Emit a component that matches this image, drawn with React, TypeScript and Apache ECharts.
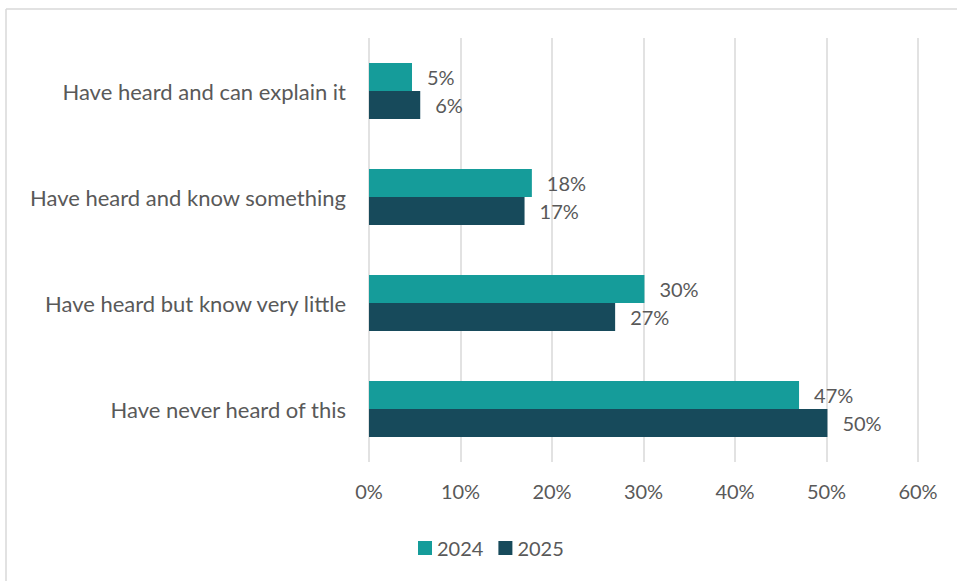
import React, { useEffect, useRef } from "react";
import * as echarts from "echarts";

const categories = [
  "Have heard and can explain it",
  "Have heard and know something",
  "Have heard but know very little",
  "Have never heard of this",
];
const values2024 = [4.7, 17.8, 30.1, 47.0];
const values2025 = [5.6, 17.0, 26.9, 50.1];
const xTicks = [0, 10, 20, 30, 40, 50, 60];
const seriesNames = ["2024", "2025"];

const FONT = "Lato, 'Open Sans', sans-serif";
const TEXT = "#595959";
const FS = 20;

export default function App() {
  const ref = useRef<HTMLDivElement>(null);
  useEffect(() => {
    if (!ref.current) return;
    const chart = echarts.init(ref.current, null, { renderer: "svg" });
    const label = {
      show: true,
      position: "right" as const,
      distance: 15,
      color: TEXT,
      fontSize: FS,
      fontFamily: FONT,
      formatter: (p: any) => Math.round(p.value) + "%",
    };
    chart.setOption({
      animation: false,
      textStyle: { fontFamily: FONT },
      grid: { left: 369, right: 39, top: 38, bottom: 119, containLabel: false },
      legend: {
        data: seriesNames,
        top: 533,
        left: 413,
        itemWidth: 14,
        itemHeight: 14,
        itemGap: 15,
        icon: "rect",
        textStyle: { color: TEXT, fontSize: FS, fontFamily: FONT },
      },
      xAxis: {
        type: "value",
        min: xTicks[0],
        max: xTicks[xTicks.length - 1],
        interval: 10,
        axisLine: { show: false },
        axisTick: { show: false },
        axisLabel: {
          color: TEXT,
          fontSize: FS,
          fontFamily: FONT,
          margin: 19,
          formatter: (v: number) => v + "%",
        },
        splitLine: { show: true, lineStyle: { color: "#d9d9d9", width: 1.5 } },
      },
      yAxis: {
        type: "category",
        data: categories,
        inverse: true,
        axisLine: { show: false },
        axisTick: { show: false },
        axisLabel: { color: TEXT, fontSize: 22, fontFamily: FONT, margin: 23 },
      },
      series: [
        {
          name: seriesNames[0],
          type: "bar",
          data: values2024,
          barWidth: 28,
          barGap: "0%",
          itemStyle: { color: "#159C9A" },
          label,
        },
        {
          name: seriesNames[1],
          type: "bar",
          data: values2025,
          barWidth: 28,
          barGap: "0%",
          itemStyle: { color: "#174A5B" },
          label,
        },
      ],
      graphic: [
        { type: "line", shape: { x1: 6, y1: 9, x2: 957, y2: 9 }, style: { stroke: "#d9d9d9", lineWidth: 1.5 } },
        { type: "line", shape: { x1: 6, y1: 9, x2: 6, y2: 581 }, style: { stroke: "#d9d9d9", lineWidth: 1.5 } },
      ],
    });
    return () => chart.dispose();
  }, []);
  return (
    <div
      ref={ref}
      style={{ position: "fixed", left: 0, top: 0, width: 957, height: 581, background: "#fff" }}
    />
  );
}
